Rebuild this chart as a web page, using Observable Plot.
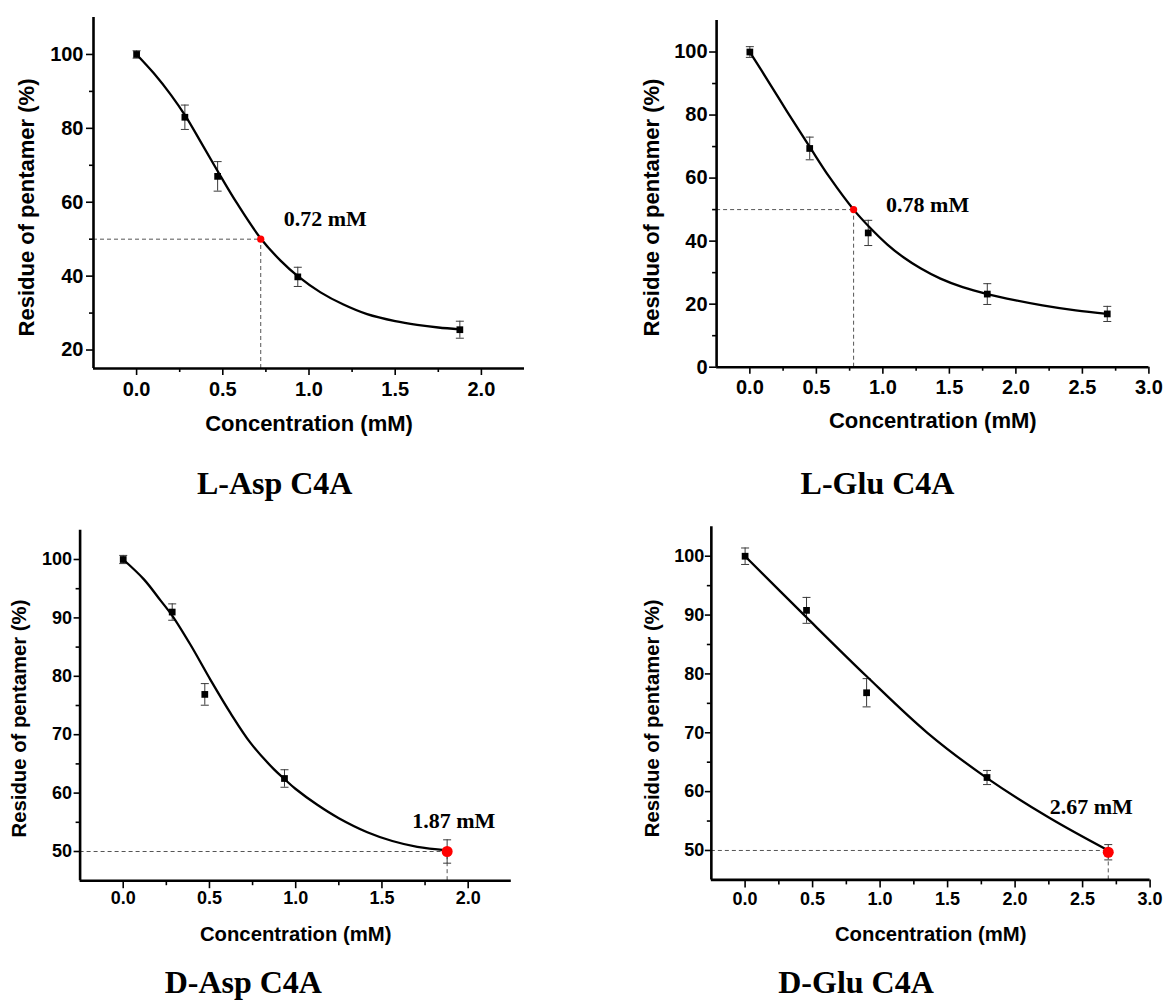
<!DOCTYPE html>
<html>
<head>
<meta charset="utf-8">
<script src="https://cdn.jsdelivr.net/npm/d3@7"></script>
<script src="https://cdn.jsdelivr.net/npm/@observablehq/plot@0.6"></script>
<style>
html, body { margin: 0; padding: 0; background: #fff; }
#root { position: relative; width: 1163px; height: 1002px; overflow: hidden; background: #fff; }
.panel { position: absolute; }
.ptitle { position: absolute; width: 320px; text-align: center; font-family: "Liberation Serif", "Times New Roman", serif; font-weight: bold; font-size: 32px; line-height: 32px; color: #000; white-space: nowrap; }
</style>
</head>
<body>
<div id="root"></div>
<script>
// ---------------- DATA ----------------
// L-Asp C4A
const lAspConc = [0, 0.28, 0.47, 0.935, 1.875];
const lAspResidue = [100, 83, 67, 39.8, 25.5];
const lAspErr = [1, 3.3, 4, 2.6, 2.3];
const lAspFitConc = [0, 0.1, 0.2, 0.284, 0.371, 0.468, 0.584, 0.72, 0.835, 0.935, 1.067, 1.2, 1.337, 1.5, 1.627, 1.75, 1.875];
const lAspFitResidue = [100, 94.9, 89.0, 83.3, 76.4, 68.6, 59.6, 50.2, 44.2, 40.0, 35.6, 32.3, 29.7, 27.8, 26.8, 26.1, 25.6];
const lAspHalf = [{conc: 0.72, residue: 50, label: "0.72 mM"}];

// L-Glu C4A
const lGluConc = [0, 0.45, 0.89, 1.785, 2.687];
const lGluResidue = [100, 69.4, 42.6, 23.2, 16.9];
const lGluErr = [1.7, 3.6, 4, 3.3, 2.4];
const lGluFitConc = [0, 0.155, 0.28, 0.45, 0.6, 0.78, 0.9, 1.032, 1.157, 1.283, 1.433, 1.6, 1.785, 2.0, 2.2, 2.45, 2.687];
const lGluFitResidue = [100, 89.6, 81.1, 69.9, 60.2, 50, 44.4, 39.0, 34.8, 31.4, 28.1, 25.4, 23.2, 21.2, 19.6, 18.0, 16.9];
const lGluHalf = [{conc: 0.78, residue: 50, label: "0.78 mM"}];

// D-Asp C4A
const dAspConc = [0, 0.284, 0.473, 0.935, 1.878];
const dAspResidue = [100, 91, 76.9, 62.5, 50];
const dAspErr = [0.7, 1.4, 1.85, 1.5, 2.0];
const dAspFitConc = [0, 0.12, 0.216, 0.284, 0.39, 0.506, 0.622, 0.738, 0.873, 0.935, 1.0, 1.125, 1.25, 1.415, 1.56, 1.705, 1.878];
const dAspFitResidue = [100, 96.6, 93.0, 90.4, 85.4, 79.4, 73.7, 68.6, 64.1, 62.4, 60.7, 58.0, 55.7, 53.3, 51.8, 50.8, 50.2];
const dAspHalf = [{conc: 1.878, residue: 50, label: "1.87 mM"}];

// D-Glu C4A
const dGluConc = [0, 0.455, 0.9, 1.792, 2.69];
const dGluResidue = [100, 90.8, 76.8, 62.4, 49.7];
const dGluErr = [1.4, 2.2, 2.4, 1.2, 1.3];
const dGluFitConc = [0, 0.455, 0.9, 1.35, 1.792, 2.25, 2.69];
const dGluFitResidue = [100, 89.6, 79.6, 70.0, 62.3, 55.6, 50.0];
const dGluHalf = [{conc: 2.69, residue: 49.7, label: "2.67 mM"}];

// tick values
const xTicksAsp = [0, 0.5, 1, 1.5, 2];
const xMinorAsp = [0.25, 0.75, 1.25, 1.75];
const xTicksGlu = [0, 0.5, 1, 1.5, 2, 2.5, 3];
const xMinorGlu = [0.25, 0.75, 1.25, 1.75, 2.25, 2.75];
const yTicksLAsp = [20, 40, 60, 80, 100];
const yMinorLAsp = [30, 50, 70, 90];
const yTicksLGlu = [0, 20, 40, 60, 80, 100];
const yMinorLGlu = [10, 30, 50, 70, 90];
const yTicksD = [50, 60, 70, 80, 90, 100];
const yMinorD = [55, 65, 75, 85, 95];

const halfLevel = 50;
const xLabel = "Concentration (mM)";
const yLabel = "Residue of pentamer (%)";
const panelTitles = ["L-Asp C4A", "L-Glu C4A", "D-Asp C4A", "D-Glu C4A"];

// ---------------- DRAWING ----------------
const sans = "'Liberation Sans', Arial, Helvetica, sans-serif";
const serif = "'Liberation Serif', 'Times New Roman', serif";

const capSymbol = {
  draw(context, size) {
    const w = Math.sqrt(size / Math.PI);
    context.moveTo(-w, 0);
    context.lineTo(w, 0);
  }
};

const panels = [
  {conc: lAspConc, res: lAspResidue, err: lAspErr, fitC: lAspFitConc, fitR: lAspFitResidue, half: lAspHalf,
   xDomain: [-0.25, 2.25], yDomain: [15, 110], xT: xTicksAsp, xM: xMinorAsp, yT: yTicksLAsp, yM: yMinorLAsp,
   left: 0, top: 0, w: 540, h: 450, ml: 93, mr: 16, mt: 17, mb: 82,
   tickFont: 20, titleFont: 22, xTick: 7, xTickMinor: 4, xPad: 6, yTick: 7, yTickMinor: 4, yPad: 3,
   yTitleDx: -67, yTitleDy: 14.5, xTitleDy: 62, redR: 3.6,
   labelAnchor: "start", labelDx: 23, labelDy: -20,
   title: panelTitles[0], titleX: 274.7, titleTop: 467},
  {conc: lGluConc, res: lGluResidue, err: lGluErr, fitC: lGluFitConc, fitR: lGluFitResidue, half: lGluHalf,
   xDomain: [-0.25, 3.0], yDomain: [0, 110], xT: xTicksGlu, xM: xMinorGlu, yT: yTicksLGlu, yM: yMinorLGlu,
   left: 590, top: 0, w: 573, h: 450, ml: 126.1, mr: 14.6, mt: 20, mb: 83.3,
   tickFont: 20, titleFont: 22, xTick: 7, xTickMinor: 4, xPad: 6, yTick: 7, yTickMinor: 4, yPad: 2,
   yTitleDx: -65, yTitleDy: 13.7, xTitleDy: 61, redR: 3.6,
   labelAnchor: "start", labelDx: 32.5, labelDy: -5,
   title: panelTitles[1], titleX: 877.5, titleTop: 467},
  {conc: dAspConc, res: dAspResidue, err: dAspErr, fitC: dAspFitConc, fitR: dAspFitResidue, half: dAspHalf,
   xDomain: [-0.25, 2.25], yDomain: [45, 105], xT: xTicksAsp, xM: xMinorAsp, yT: yTicksD, yM: yMinorD,
   left: 0, top: 500, w: 540, h: 450, ml: 79.6, mr: 29.2, mt: 29.8, mb: 69.8,
   tickFont: 18, titleFont: 20.3, xTick: 8, xTickMinor: 5, xPad: 3, yTick: 6, yTickMinor: 4, yPad: 2,
   yTitleDx: -60.6, yTitleDy: 13, xTitleDy: 60.5, redR: 5.5,
   labelAnchor: "middle", labelDx: 6.6, labelDy: -31,
   title: panelTitles[2], titleX: 243.3, titleTop: 966},
  {conc: dGluConc, res: dGluResidue, err: dGluErr, fitC: dGluFitConc, fitR: dGluFitResidue, half: dGluHalf,
   xDomain: [-0.25, 3.0], yDomain: [45, 105], xT: xTicksGlu, xM: xMinorGlu, yT: yTicksD, yM: yMinorD,
   left: 587, top: 500, w: 573, h: 450, ml: 123.85, mr: 10.4, mt: 26.3, mb: 70.6,
   tickFont: 18, titleFont: 20.3, xTick: 8, xTickMinor: 5, xPad: 4, yTick: 6, yTickMinor: 4, yPad: 1,
   yTitleDx: -59, yTitleDy: 15, xTitleDy: 61.4, redR: 5.5,
   labelAnchor: "middle", labelDx: -17, labelDy: -45,
   title: panelTitles[3], titleX: 856, titleTop: 966}
];

const root = document.getElementById("root");

for (const p of panels) {
  const pts = p.conc.map((c, i) => ({conc: c, residue: p.res[i], err: p.err[i]}));
  const fit = p.fitC.map((c, i) => ({conc: c, residue: p.fitR[i]}));
  const x0 = p.xDomain[0], y0 = p.yDomain[0];

  const chart = Plot.plot({
    width: p.w, height: p.h,
    marginLeft: p.ml, marginRight: p.mr, marginTop: p.mt, marginBottom: p.mb,
    x: {domain: p.xDomain},
    y: {domain: p.yDomain},
    style: {fontFamily: sans, fontWeight: "bold", color: "#000", background: "transparent", overflow: "visible"},
    marks: [
      // dashed guide lines to the 50% point
      Plot.ruleY(p.half, {y: () => halfLevel, x1: () => x0, x2: "conc", stroke: "#555", strokeWidth: 1, strokeDasharray: "4,3"}),
      Plot.ruleX(p.half, {x: "conc", y1: () => y0, y2: () => halfLevel, stroke: "#555", strokeWidth: 1, strokeDasharray: "4,3"}),
      // error bars
      Plot.ruleX(pts, {x: "conc", y1: d => d.residue - d.err, y2: d => d.residue + d.err, stroke: "#3a3a3a", strokeWidth: 1}),
      Plot.dot(pts, {x: "conc", y: d => d.residue + d.err, symbol: capSymbol, r: 4, stroke: "#3a3a3a", strokeWidth: 1, fill: "none"}),
      Plot.dot(pts, {x: "conc", y: d => d.residue - d.err, symbol: capSymbol, r: 4, stroke: "#3a3a3a", strokeWidth: 1, fill: "none"}),
      // fitted curve
      Plot.line(fit, {x: "conc", y: "residue", curve: "catmull-rom", stroke: "#000", strokeWidth: 2.3}),
      // data points
      Plot.dot(pts, {x: "conc", y: "residue", symbol: "square", r: 3.8, fill: "#000", stroke: "none"}),
      // half-inhibition point
      Plot.dot(p.half, {x: "conc", y: "residue", r: p.redR, fill: "#ff0000", stroke: "none"}),
      Plot.text(p.half, {x: "conc", y: "residue", text: "label", dx: p.labelDx, dy: p.labelDy, textAnchor: p.labelAnchor,
        fontFamily: serif, fontWeight: "bold", fontSize: 22, fill: "#000"}),
      // axes
      Plot.axisX({ticks: p.xT, tickSize: p.xTick, tickPadding: p.xPad, tickFormat: d3.format(".1f"), fontSize: p.tickFont, fontWeight: "bold", label: null, strokeWidth: 1.6, fill: "#000"}),
      Plot.axisX({ticks: p.xM, tickSize: p.xTickMinor, tickFormat: () => "", label: null, strokeWidth: 1.6}),
      Plot.axisY({ticks: p.yT, tickSize: p.yTick, tickPadding: p.yPad, tickFormat: d3.format("d"), fontSize: p.tickFont, fontWeight: "bold", label: null, strokeWidth: 1.6, fill: "#000"}),
      Plot.axisY({ticks: p.yM, tickSize: p.yTickMinor, tickFormat: () => "", label: null, strokeWidth: 1.6}),
      Plot.ruleX([x0], {stroke: "#000", strokeWidth: 2.6}),
      Plot.ruleY([y0], {stroke: "#000", strokeWidth: 2.6}),
      // axis titles
      Plot.text([yLabel], {frameAnchor: "left", rotate: -90, dx: p.yTitleDx, dy: p.yTitleDy, textAnchor: "middle",
        fontSize: p.titleFont, fontWeight: "bold", fontFamily: sans, fill: "#000"}),
      Plot.text([xLabel], {frameAnchor: "bottom", dy: p.xTitleDy, textAnchor: "middle",
        fontSize: p.titleFont, fontWeight: "bold", fontFamily: sans, fill: "#000"})
    ]
  });
  chart.classList.add("panel");
  chart.style.left = p.left + "px";
  chart.style.top = p.top + "px";
  chart.style.maxWidth = "none";
  root.appendChild(chart);

  const t = document.createElement("div");
  t.className = "ptitle";
  t.textContent = p.title;
  t.style.left = (p.titleX - 160) + "px";
  t.style.top = p.titleTop + "px";
  root.appendChild(t);
}
</script>
</body>
</html>
